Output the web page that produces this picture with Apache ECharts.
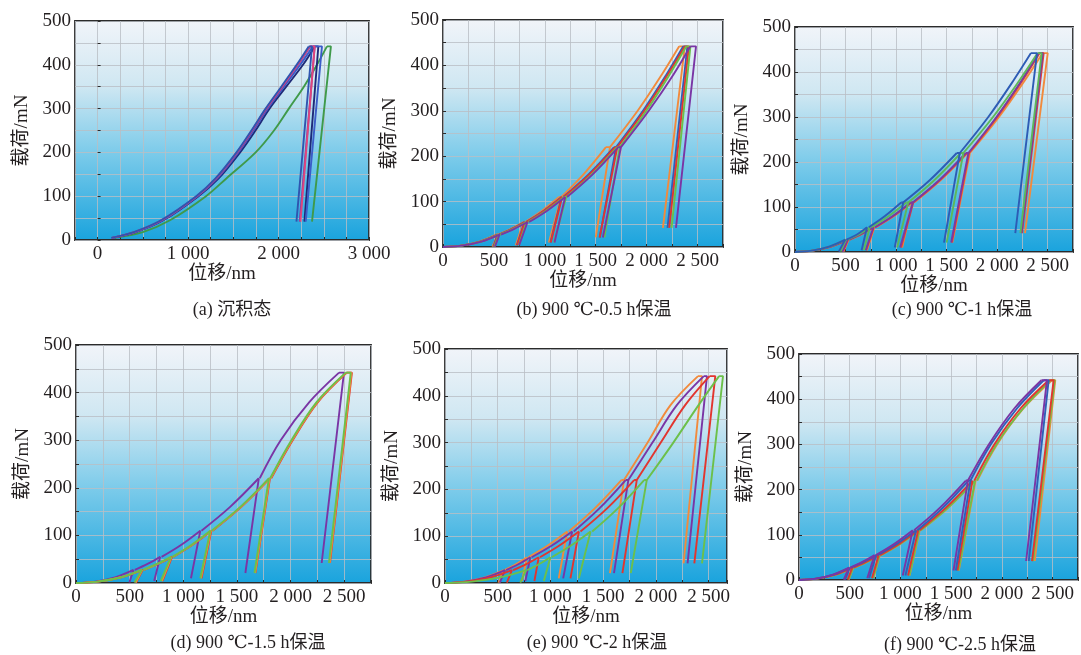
<!DOCTYPE html>
<html>
<head>
<meta charset="utf-8">
<script src="https://cdn.jsdelivr.net/npm/echarts@6/dist/echarts.min.js"></script>
<style>
  html, body { margin: 0; padding: 0; background: #fff; }
  #main { width: 1081px; height: 655px; }
</style>
</head>
<body>
<div id="main"></div>
<script>
// ---- data (displacement in nm, load in mN) ----

// shared cycle levels for the multi-cycle tests (b)-(f)
const loadLevels = [27.5, 55, 110, 220, 442];
const unloadLoads = [1, 4, 10, 21, 42];
const envLoads = [3, 12, 40, 80, 160, 300, 380];

// (a) as deposited, single cycle
const aLevels = [442];
const aEnds = [42];
const aEnvLoads = [5, 18, 45, 100, 140, 200, 250, 300, 350, 400];
const aColors = ['#3f9a4a', '#1e2a78', '#3b5cc8', '#7a3ea8', '#e0457c', '#2f55b0'];
const aEnvX = [
  [190, 500, 800, 1198, 1420, 1747, 1950, 2114, 2280, 2425],
  [165, 420, 725, 1115, 1335, 1575, 1745, 1900, 2085, 2270],
  [160, 415, 718, 1105, 1320, 1555, 1722, 1880, 2060, 2240],
  [160, 410, 712, 1100, 1312, 1548, 1712, 1870, 2045, 2215],
  [155, 405, 705, 1095, 1305, 1540, 1705, 1862, 2040, 2210],
  [150, 400, 700, 1090, 1300, 1535, 1700, 1857, 2030, 2200]
];
const aPeakX = [[2535], [2400], [2380], [2350], [2345], [2333]];
const aHoldX = [[2579], [2440], [2480], [2400], [2399], [2370]];
const aUnloadX = [[2370], [2286], [2300], [2234], [2242], [2198]];

// (b) 900 C - 0.5 h
const bColors = ['#f28a3c', '#2f5fb8', '#e2352f', '#6cc04a', '#7a35a5'];
const bEnvX = [
  [172, 354, 665, 972, 1380, 1912, 2150],
  [177, 364, 675, 990, 1430, 1964, 2195],
  [178, 367, 680, 995, 1438, 1977, 2208],
  [181, 373, 691, 1013, 1460, 1997, 2226],
  [183, 377, 700, 1023, 1470, 2021, 2264]
];
const bPeakX = [[520, 790, 1140, 1600, 2320], [535, 800, 1165, 1680, 2360], [540, 805, 1170, 1690, 2375], [548, 820, 1190, 1710, 2390], [555, 830, 1200, 1722, 2430]];
const bHoldX = [[540, 805, 1160, 1640, 2375], [550, 815, 1180, 1700, 2400], [555, 820, 1185, 1712, 2415], [562, 835, 1210, 1735, 2430], [570, 845, 1218, 1748, 2485]];
const bUnloadX = [[485, 715, 1040, 1500, 2160], [495, 725, 1055, 1540, 2205], [500, 728, 1058, 1538, 2222], [505, 745, 1090, 1585, 2245], [510, 748, 1095, 1570, 2288]];

// (c) 900 C - 1 h
const cColors = ['#f28a3c', '#e0403a', '#7a3aa0', '#5db85a', '#2d5cb5'];
const cEnvX = [
  [175, 360, 665, 980, 1442, 2018, 2270],
  [173, 357, 660, 973, 1435, 2001, 2247],
  [172, 354, 655, 968, 1428, 1993, 2238],
  [167, 343, 640, 928, 1380, 1959, 2216],
  [164, 338, 621, 890, 1335, 1912, 2158]
];
const cPeakX = [[530, 785, 1160, 1705, 2450], [525, 780, 1150, 1700, 2420], [520, 775, 1145, 1690, 2410], [505, 740, 1100, 1640, 2400], [497, 712, 1050, 1600, 2334]];
const cHoldX = [[545, 800, 1178, 1730, 2500], [540, 795, 1170, 1722, 2460], [535, 790, 1165, 1715, 2450], [520, 755, 1120, 1665, 2440], [510, 730, 1070, 1630, 2394]];
const cUnloadX = [[480, 712, 1060, 1556, 2275], [475, 705, 1050, 1552, 2245], [470, 700, 1040, 1545, 2240], [450, 680, 1010, 1500, 2230], [434, 659, 987, 1474, 2179]];

// (d) 900 C - 1.5 h
const dColors = ['#7a35a5', '#e2352f', '#f28a3c', '#6cc04a'];
const dEnvX = [
  [177, 364, 667, 979, 1437, 1908, 2175],
  [207, 423, 764, 1084, 1541, 2020, 2255],
  [205, 420, 760, 1080, 1538, 2015, 2250],
  [203, 418, 755, 1075, 1532, 2008, 2243]
];
const dPeakX = [[536, 785, 1159, 1704, 2452], [622, 895, 1262, 1808, 2525], [618, 890, 1258, 1805, 2520], [614, 885, 1252, 1798, 2514]];
const dHoldX = [[548, 798, 1170, 1713, 2498], [634, 906, 1274, 1820, 2572], [630, 903, 1270, 1815, 2568], [626, 898, 1265, 1810, 2561]];
const dUnloadX = [[498, 729, 1072, 1579, 2290], [560, 805, 1170, 1672, 2368], [556, 800, 1165, 1670, 2365], [545, 790, 1159, 1664, 2358]];

// (e) 900 C - 2 h
const eColors = ['#f28a3c', '#7a35a5', '#e2352f', '#6cc04a'];
const eEnvX = [
  [183, 378, 671, 975, 1423, 1922, 2139],
  [188, 388, 695, 1014, 1467, 1968, 2199],
  [210, 432, 767, 1085, 1540, 2047, 2278],
  [254, 524, 890, 1196, 1642, 2166, 2405]
];
const ePeakX = [[556, 778, 1159, 1673, 2400], [570, 810, 1206, 1714, 2455], [635, 889, 1270, 1794, 2510], [770, 1000, 1381, 1889, 2600]];
const eHoldX = [[565, 790, 1174, 1698, 2438], [580, 822, 1221, 1739, 2485], [645, 901, 1285, 1819, 2564], [780, 1012, 1396, 1914, 2637]];
const eUnloadX = [[508, 730, 1079, 1565, 2263], [520, 762, 1121, 1603, 2301], [587, 848, 1190, 1683, 2365], [714, 937, 1270, 1762, 2438]];

// (f) 900 C - 2.5 h
const fColors = ['#f28a3c', '#6cc04a', '#e2352f', '#2f5fb8', '#7a35a5'];
const fEnvX = [
  [176, 364, 672, 1000, 1471, 1952, 2214],
  [176, 362, 670, 996, 1467, 1945, 2210],
  [173, 357, 661, 987, 1449, 1925, 2185],
  [165, 340, 637, 964, 1419, 1890, 2150],
  [163, 335, 625, 940, 1390, 1871, 2124]
];
const fPeakX = [[535, 797, 1190, 1740, 2493], [533, 794, 1186, 1735, 2475], [525, 785, 1175, 1709, 2461], [500, 761, 1154, 1670, 2412], [493, 745, 1121, 1644, 2389]];
const fHoldX = [[547, 809, 1202, 1758, 2526], [545, 806, 1198, 1752, 2520], [537, 798, 1188, 1728, 2510], [512, 773, 1168, 1690, 2461], [505, 758, 1135, 1665, 2444]];
const fUnloadX = [[492, 732, 1090, 1575, 2324], [490, 729, 1088, 1572, 2307], [480, 720, 1075, 1562, 2297], [455, 690, 1049, 1546, 2265], [441, 673, 1023, 1523, 2239]];

const captions = ['(a) 沉积态', '(b) 900 ℃-0.5 h保温', '(c) 900 ℃-1 h保温', '(d) 900 ℃-1.5 h保温', '(e) 900 ℃-2 h保温', '(f) 900 ℃-2.5 h保温'];

// ---- chart ----
const serif = '"Liberation Serif", "DejaVu Serif", "Noto Sans CJK SC", serif';

// loading branches: from the previous hold point up to each peak, broken between cycles
const buildLoad = (levels, envY, envX, peakX, holdX, fromZero) => {
  const pts = [];
  let k = 0;
  levels.forEach((p, i) => {
    if (i > 0) pts.push([holdX[i - 1], levels[i - 1]]);
    else if (fromZero) pts.push([0, 0]);
    while (k < envY.length && envY[k] < p) {
      pts.push([envX[k], envY[k]]);
      k++;
    }
    pts.push([peakX[i], p], [peakX[i], '-']);
  });
  return pts;
};

// hold + unload (and reload) branch of each cycle, straight pieces
const buildUnload = (levels, ends, peakX, holdX, unloadX) => {
  const pts = [];
  levels.forEach((p, i) => {
    pts.push([peakX[i], p], [holdX[i], p], [unloadX[i], ends[i]], [unloadX[i], '-']);
  });
  return pts;
};

const fmtNm = (v) => {
  if (v < 1000) return String(v);
  return Math.floor(v / 1000) + ' ' + String(v % 1000).padStart(3, '0');
};

const panels = [
  { grid: { left: 75, top: 21, width: 294, height: 219 }, xMin: -250, xMax: 3000, labelStep: 1000,
    levels: aLevels, ends: aEnds, envY: aEnvLoads, envX: aEnvX, peakX: aPeakX, holdX: aHoldX, unloadX: aUnloadX,
    colors: aColors, fromZero: false, cap: [232, 310] },
  { grid: { left: 443, top: 20, width: 280, height: 227 }, xMin: 0, xMax: 2750, labelStep: 500,
    levels: loadLevels, ends: unloadLoads, envY: envLoads, envX: bEnvX, peakX: bPeakX, holdX: bHoldX, unloadX: bUnloadX,
    colors: bColors, fromZero: true, cap: [594, 310] },
  { grid: { left: 795, top: 27, width: 278, height: 225 }, xMin: 0, xMax: 2750, labelStep: 500,
    levels: loadLevels, ends: unloadLoads, envY: envLoads, envX: cEnvX, peakX: cPeakX, holdX: cHoldX, unloadX: cUnloadX,
    colors: cColors, fromZero: true, cap: [962, 310] },
  { grid: { left: 76, top: 345, width: 295, height: 238 }, xMin: 0, xMax: 2750, labelStep: 500,
    levels: loadLevels, ends: unloadLoads, envY: envLoads, envX: dEnvX, peakX: dPeakX, holdX: dHoldX, unloadX: dUnloadX,
    colors: dColors, fromZero: true, cap: [248, 643] },
  { grid: { left: 445, top: 349, width: 282, height: 234 }, xMin: 0, xMax: 2675, labelStep: 500,
    levels: loadLevels, ends: unloadLoads, envY: envLoads, envX: eEnvX, peakX: ePeakX, holdX: eHoldX, unloadX: eUnloadX,
    colors: eColors, fromZero: true, cap: [597, 643] },
  { grid: { left: 799, top: 354, width: 279, height: 226 }, xMin: 0, xMax: 2750, labelStep: 500,
    levels: loadLevels, ends: unloadLoads, envY: envLoads, envX: fEnvX, peakX: fPeakX, holdX: fHoldX, unloadX: fUnloadX,
    colors: fColors, fromZero: true, cap: [960, 645] }
];

const bg = new echarts.graphic.LinearGradient(0, 0, 0, 1, [
  { offset: 0, color: '#f1f4f9' },
  { offset: 0.3, color: '#cfe7f2' },
  { offset: 0.6, color: '#7ccbea' },
  { offset: 1, color: '#19a3dd' }
]);
const splitStyle = { color: 'rgba(185,190,196,0.8)', width: 1 };

const grids = [];
const xAxes = [];
const yAxes = [];
const series = [];
const graphics = [];

panels.forEach((p, gi) => {
  grids.push(Object.assign({
    show: true, backgroundColor: bg, borderColor: '#2b2b2b', borderWidth: 1.8
  }, p.grid));
  xAxes.push({
    type: 'value', gridIndex: gi, min: p.xMin, max: p.xMax, interval: 250,
    name: '位移/nm', nameLocation: 'middle', nameGap: 25,
    nameTextStyle: { fontFamily: serif, fontSize: 19, color: '#231f20' },
    axisLine: { show: false },
    axisTick: { show: true, inside: true, length: 3, lineStyle: { color: '#2b2b2b' } },
    splitLine: { show: true, lineStyle: splitStyle },
    axisLabel: {
      margin: 5, fontFamily: serif, fontSize: 19, color: '#231f20',
      formatter: (v) => (v >= 0 && v % p.labelStep === 0) ? fmtNm(v) : ''
    }
  });
  yAxes.push({
    type: 'value', gridIndex: gi, min: 0, max: 500, interval: 50,
    name: '载荷/mN', nameLocation: 'middle', nameGap: 43,
    nameTextStyle: { fontFamily: serif, fontSize: 19, color: '#231f20' },
    axisLine: { show: false },
    axisTick: { show: true, inside: true, length: 3, lineStyle: { color: '#2b2b2b' } },
    splitLine: { show: true, lineStyle: splitStyle },
    axisLabel: {
      margin: 4, fontFamily: serif, fontSize: 19, color: '#231f20',
      formatter: (v) => (v % 100 === 0) ? String(v) : ''
    }
  });
  p.colors.forEach((c, si) => {
    const common = {
      type: 'line', xAxisIndex: gi, yAxisIndex: gi,
      showSymbol: false, clip: true, connectNulls: false,
      lineStyle: { color: c, width: 1.9 },
      emphasis: { disabled: true }
    };
    series.push(Object.assign({}, common, {
      data: buildLoad(p.levels, p.envY, p.envX[si], p.peakX[si], p.holdX[si], p.fromZero),
      smooth: 0.35
    }));
    series.push(Object.assign({}, common, {
      data: buildUnload(p.levels, p.ends, p.peakX[si], p.holdX[si], p.unloadX[si]),
      smooth: false
    }));
  });
  graphics.push({
    type: 'text', x: p.cap[0], y: p.cap[1], silent: true,
    style: {
      text: captions[gi], fill: '#231f20',
      font: '18px ' + serif,
      align: 'center', verticalAlign: 'middle',
      textAlign: 'center', textVerticalAlign: 'middle'
    }
  });
});

const chart = echarts.init(document.getElementById('main'));
chart.setOption({
  animation: false,
  grid: grids,
  xAxis: xAxes,
  yAxis: yAxes,
  series: series,
  graphic: graphics
});
</script>
</body>
</html>
